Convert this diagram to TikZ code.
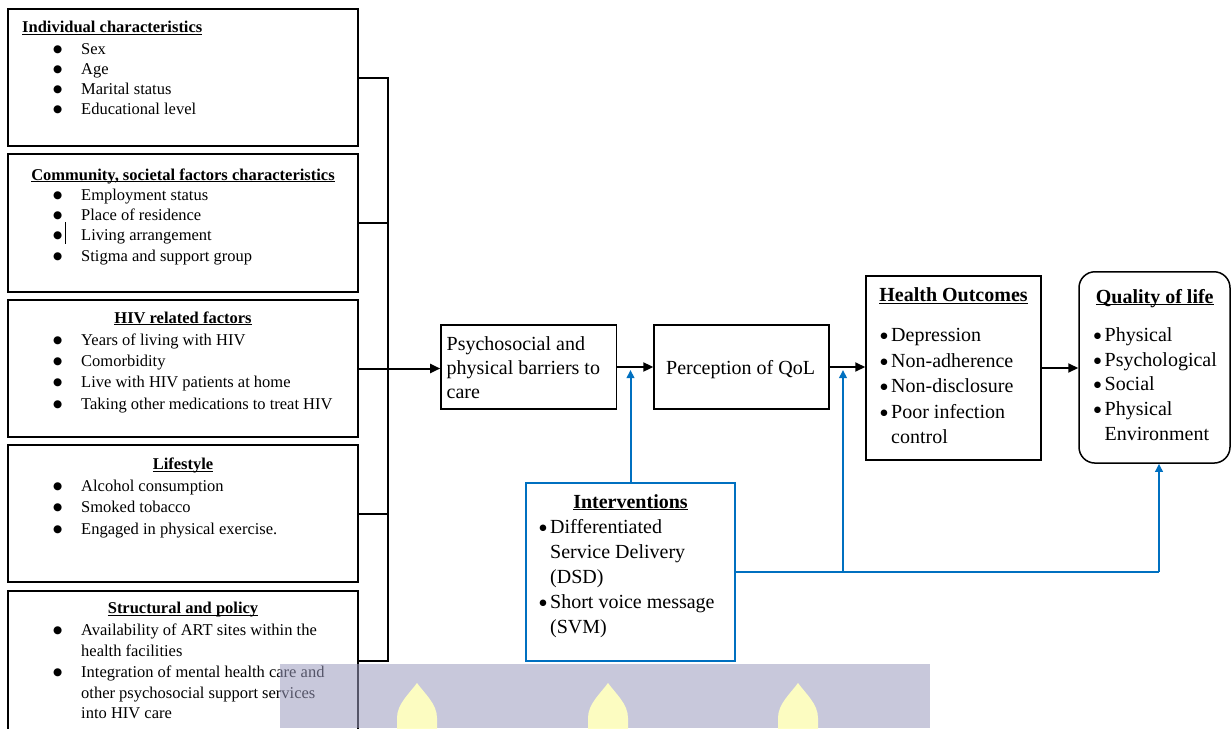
\documentclass[tikz,border=0pt]{standalone}
\usepackage{fontspec}
\setmainfont{Liberation Serif}
\newfontfamily\dotfont{DejaVu Sans}
\usetikzlibrary{arrows.meta}
\definecolor{ublue}{RGB}{0,112,192}
\definecolor{wmshade}{RGB}{155,155,190}
\definecolor{wmflame}{RGB}{255,255,192}
% heading underline, a little heavier than \underline
\newcommand{\hdul}[1]{\sbox0{#1}\rlap{\rule[-2pt]{\wd0}{1pt}}\usebox0}
% bullet dots
\newcommand{\bigbul}{\raisebox{1.8pt}{\dotfont\fontsize{10.5}{10.5}\selectfont ●}}
\newcommand{\midbul}{\raisebox{3pt}{\dotfont\fontsize{8.5}{8.5}\selectfont ●}}
% bullets hanging left of the item text
\newcommand{\lbul}{\llap{\bigbul\hspace{19pt}}}
\newcommand{\rbul}{\llap{\midbul\hspace{3.5pt}}}
\begin{document}
\begin{tikzpicture}[x=1pt,y=-1pt,
  box/.style={draw, line width=1.5pt, inner sep=0pt},
  lbox/.style={box, minimum width=350pt},
  link/.style={line width=2pt},
  arr/.style={link, -{Triangle[length=10pt,width=9pt]}},
  bline/.style={draw=ublue, line width=2pt},
  barr/.style={bline, -{Triangle[length=8pt,width=7.5pt]}},
  ltitle/.style={font=\fontsize{16.5}{20}\selectfont\bfseries, inner sep=0pt, anchor=base},
  litem/.style={font=\fontsize{16.5}{20}\selectfont, inner sep=0pt, anchor=base west},
  rtitle/.style={font=\fontsize{20}{24}\selectfont\bfseries, inner sep=0pt, anchor=base},
  ritem/.style={font=\fontsize{20}{24}\selectfont, inner sep=0pt, anchor=base west}]
\clip (0,0) rectangle (1231,728);

% ---- determinant boxes (left column) ----
\node[lbox, minimum height=137pt] (ind)  at (183,77.5) {};
\node[lbox, minimum height=138pt] (com)  at (183,223) {};
\node[lbox, minimum height=137pt] (hiv)  at (183,368.5) {};
\node[lbox, minimum height=137pt] (lif)  at (183,513.5) {};
\node[lbox, minimum height=139pt] (stru) at (183,660.5) {};

\node[ltitle, anchor=base west] (indT) at (22,32.5) {\hdul{Individual characteristics}};
\node[litem] (ind1) at (81,54) {\lbul Sex};
\node[litem] (ind2) at (81,74) {\lbul Age};
\node[litem] (ind3) at (81,94) {\lbul Marital status};
\node[litem] (ind4) at (81,114) {\lbul Educational level};

\node[ltitle] (comT) at (183,180) {\hdul{Community, societal factors characteristics}};
\node[litem] (com1) at (81,200) {\lbul Employment status};
\node[litem] (com2) at (81,220.5) {\lbul Place of residence};
\node[litem] (com3) at (81,240.5) {\lbul Living arrangement};
\node[litem] (com4) at (81,261.5) {\lbul Stigma and support group};
\draw[line width=0.9pt] (65,222) -- (65,244);

\node[ltitle] (hivT) at (183,323) {\hdul{HIV related factors}};
\node[litem] (hiv1) at (81,345) {\lbul Years of living with HIV};
\node[litem] (hiv2) at (81,366) {\lbul Comorbidity};
\node[litem] (hiv3) at (81,387.5) {\lbul Live with HIV patients at home};
\node[litem] (hiv4) at (81,409) {\lbul Taking other medications to treat HIV};

\node[ltitle] (lifT) at (183,469.5) {\hdul{Lifestyle}};
\node[litem] (lif1) at (81,491) {\lbul Alcohol consumption};
\node[litem] (lif2) at (81,512.5) {\lbul Smoked tobacco};
\node[litem] (lif3) at (81,534) {\lbul Engaged in physical exercise.};

\node[ltitle] (struT) at (183,613.5) {\hdul{Structural and policy}};
\node[litem] (stru1) at (81,635) {\lbul Availability of ART sites within the};
\node[litem] (stru2) at (81,656) {health facilities};
\node[litem] (stru3) at (81,677.5) {\lbul Integration of mental health care and};
\node[litem] (stru4) at (81,698) {other psychosocial support services};
\node[litem] (stru5) at (81,718) {into HIV care};

% ---- pathway boxes ----
\node[box, minimum width=175.7pt, minimum height=84pt] (psy) at (528.8,367) {};
\node[ritem] (psy1) at (446.5,350) {Psychosocial and};
\node[ritem] (psy2) at (446.5,374.5) {physical barriers to};
\node[ritem] (psy3) at (446.5,398.5) {care};

\node[box, minimum width=174.7pt, minimum height=84pt] (per) at (741.4,367) {};
\node[ritem] (perT) at (666,374) {Perception of QoL};

\node[box, minimum width=175pt, minimum height=184pt] (hea) at (953.5,368) {};
\node[rtitle] (heaT) at (953.5,301.5) {\hdul{Health Outcomes}};
\node[ritem] (hea1) at (891,341.7) {\rbul Depression};
\node[ritem] (hea2) at (891,367) {\rbul Non-adherence};
\node[ritem] (hea3) at (891,392.7) {\rbul Non-disclosure};
\node[ritem] (hea4) at (891,418.3) {\rbul Poor infection};
\node[ritem] (hea5) at (891,443.3) {control};

\node[box, rounded corners=16pt, minimum width=151pt, minimum height=191.3pt] (qol) at (1154.5,367.4) {};
\node[rtitle] (qolT) at (1154.7,303) {\hdul{Quality of life}};
\node[ritem] (qol1) at (1104.5,341.7) {\rbul Physical};
\node[ritem] (qol2) at (1104.5,366.2) {\rbul Psychological};
\node[ritem] (qol3) at (1104.5,390.7) {\rbul Social};
\node[ritem] (qol4) at (1104.5,415.7) {\rbul Physical};
\node[ritem] (qol5) at (1104.5,440.7) {Environment};

\node[box, draw=ublue, minimum width=209pt, minimum height=178pt] (int) at (630.5,572) {};
\node[rtitle] (intT) at (630.5,508) {\hdul{Interventions}};
\node[ritem] (int1) at (550,533) {\rbul Differentiated};
\node[ritem] (int2) at (550,558) {Service Delivery};
\node[ritem] (int3) at (550,583) {(DSD)};
\node[ritem] (int4) at (550,608) {\rbul Short voice message};
\node[ritem] (int5) at (550,633) {(SVM)};

% ---- bracket collecting the determinants ----
\coordinate (busT) at (388,77.5);
\draw[link] (ind.east) -| (stru.east -| busT) -- (stru.east);
\draw[link] (com.east) -- (com.east -| busT);
\draw[link] (hiv.east) -- (hiv.east -| busT);
\draw[link] (lif.east) -- (lif.east -| busT);

% ---- main causal chain ----
\draw[arr] (hiv.east -| busT) -- (hiv.east -| psy.west);
\draw[arr] (psy.east) -- (per.west);
\draw[arr] (per.east) -- (per.east -| hea.west);
\draw[arr] (hea.east) -- (hea.east -| qol.west);

% ---- intervention effects ----
\coordinate (jn) at (843,572);
\coordinate (jq) at (1159,572);
\draw[bline] (int.east) -- (jq);
\draw[barr] (jq) -- (jq |- qol.south);
\draw[barr] (jn) -- ([yshift=-3pt]jn |- per.east);
\draw[barr] (int.north) -- ([yshift=-3pt]int.north |- psy.east);

% ---- page watermark band ----
\fill[wmshade, opacity=0.55] (280,664) rectangle (930,728);
\foreach \fx in {417,608,798}{
  \fill[wmflame, opacity=0.95] (\fx,683)
    .. controls (\fx+8,694) and (\fx+20,704) .. (\fx+20,718)
    -- (\fx+20,732) -- (\fx-20,732) -- (\fx-20,718)
    .. controls (\fx-20,704) and (\fx-8,694) .. (\fx,683) -- cycle;
}
\end{tikzpicture}
\end{document}
